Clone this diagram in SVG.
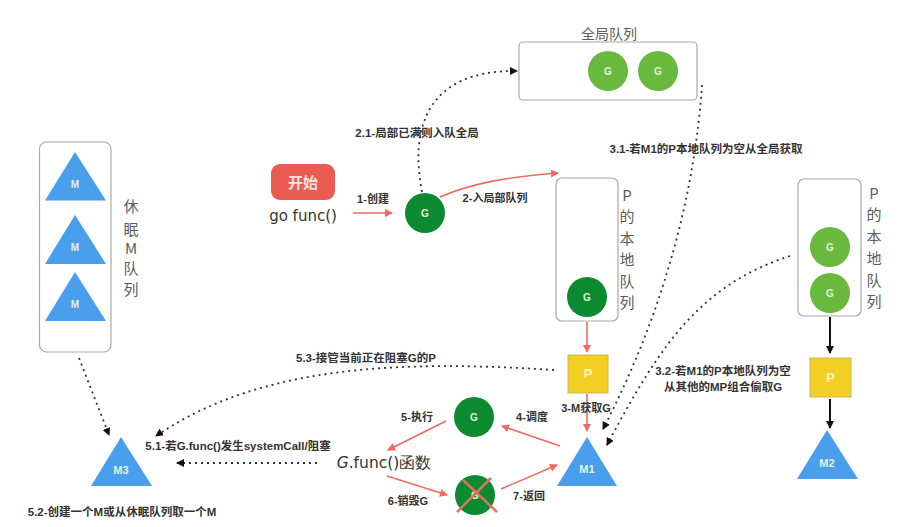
<svg xmlns="http://www.w3.org/2000/svg" width="907" height="527" viewBox="0 0 907 527">
<style>
text{font-family:"Liberation Sans","Noto Sans CJK SC",sans-serif}
.box{fill:#fff;stroke:#a8a8a8;stroke-width:1.2}
.dg{fill:#0b8a30}
.lg{fill:#69b93f}
.tri{fill:#4a9fec}
.yel{fill:#f3cf24;stroke:#c9b75a;stroke-width:1}
.in{fill:#e4f1dc;font-size:10px;font-weight:700;text-anchor:middle}
.lb{fill:#333;font-size:11.500px;font-weight:700;text-anchor:middle}
.v{fill:#5c5c5c;font-size:15px;text-anchor:middle;font-family:"Noto Sans CJK SC","Liberation Sans",sans-serif}
.hw{fill:#333;font-family:"DejaVu Sans",sans-serif;font-size:15px;text-anchor:middle}
.red{fill:none;stroke:#ee6a62;stroke-width:1.6}
.blk{fill:none;stroke:#111;stroke-width:2}
.dot{fill:none;stroke:#333;stroke-width:1.800;stroke-dasharray:2 4}
</style>
<defs>
<marker id="ar" markerWidth="10" markerHeight="10" refX="7" refY="4" orient="auto" markerUnits="userSpaceOnUse"><path d="M0 0L8 4L0 8Z" fill="#ee6a62"/></marker>
<marker id="ab" markerWidth="10" markerHeight="10" refX="7" refY="4" orient="auto" markerUnits="userSpaceOnUse"><path d="M0 0L8 4L0 8Z" fill="#111"/></marker>
</defs>
<rect width="907" height="527" fill="#fff"/>

<g id="global-queue"><rect class="box" x="519" y="42" width="178" height="58" rx="4"/><text x="609" y="39" style="font-size:14px;fill:#5c5c5c;text-anchor:middle">全局队列</text></g>
<g id="global-g1"><circle class="lg" cx="608" cy="71" r="20"/><text class="in" x="608" y="74.500">G</text></g>
<g id="global-g2"><circle class="lg" cx="658" cy="71" r="20"/><text class="in" x="658" y="74.500">G</text></g>

<g id="sleep-queue"><rect class="box" x="39.500" y="142" width="71.500" height="210" rx="7"/>
<text class="v" x="131" y="212">休</text><text class="v" x="131" y="235">眠</text><text class="v" x="131" y="254">M</text><text class="v" x="131" y="274">队</text><text class="v" x="131" y="295">列</text></g>
<g id="sleep-m1"><path class="tri" d="M75 152L106 200.500H45Z"/><text class="in" x="75" y="188">M</text></g>
<g id="sleep-m2"><path class="tri" d="M75 215L106 264H45Z"/><text class="in" x="75" y="251">M</text></g>
<g id="sleep-m3"><path class="tri" d="M75 272L106 321H45Z"/><text class="in" x="75" y="308">M</text></g>

<g id="start"><rect x="271" y="164" width="64" height="36" rx="9" fill="#ea5b52"/><text x="303" y="188" style="font-size:15px;font-weight:700;fill:#fbe3e0;text-anchor:middle">开始</text></g>
<text class="hw" x="303" y="221">go func()</text>
<g id="g-new"><circle class="dg" cx="425" cy="213" r="20"/><text class="in" x="425" y="216.500">G</text></g>

<g id="p-local"><rect class="box" x="556" y="178" width="62" height="143" rx="6"/>
<text class="v" x="627" y="201">P</text><text class="v" x="627" y="222">的</text><text class="v" x="627" y="244">本</text><text class="v" x="627" y="265">地</text><text class="v" x="627" y="287">队</text><text class="v" x="627" y="308">列</text></g>
<g id="p-local-g"><circle class="dg" cx="587" cy="297" r="20"/><text class="in" x="587" y="300.500">G</text></g>

<g id="p-other"><rect class="box" x="798" y="179" width="63" height="137" rx="6"/>
<text class="v" x="874" y="199">P</text><text class="v" x="874" y="220">的</text><text class="v" x="874" y="242">本</text><text class="v" x="874" y="264">地</text><text class="v" x="874" y="286">队</text><text class="v" x="874" y="307">列</text></g>
<g id="p-other-g1"><circle class="lg" cx="830" cy="247" r="20"/><text class="in" x="830" y="250.500">G</text></g>
<g id="p-other-g2"><circle class="lg" cx="830" cy="293" r="20"/><text class="in" x="830" y="296.500">G</text></g>

<g id="p1"><rect class="yel" x="568" y="355" width="40" height="38"/><text x="588" y="378" style="font-size:13px;font-weight:700;fill:#fbf3c0;text-anchor:middle">P</text></g>
<g id="p2"><rect class="yel" x="810" y="358" width="41" height="39"/><text x="830.500" y="382" style="font-size:13px;font-weight:700;fill:#fbf3c0;text-anchor:middle">P</text></g>
<g id="m1"><path class="tri" d="M587 437L617 486H557Z"/><text class="in" x="587" y="473" style="font-size:11px">M1</text></g>
<g id="m2"><path class="tri" d="M827 430L858 479H797Z"/><text class="in" x="827" y="467" style="font-size:11px">M2</text></g>
<g id="m3"><path class="tri" d="M121 437L152 486H91Z"/><text class="in" x="121" y="474" style="font-size:11px">M3</text></g>
<g id="g-run"><circle class="dg" cx="474" cy="417" r="20"/><text class="in" x="474" y="420.500">G</text></g>
<g id="g-dead"><circle class="dg" cx="475" cy="495" r="20"/><text class="in" x="475" y="498.500">G</text><path d="M457 512L491 478M463 480L497 512" stroke="#e2705f" stroke-width="2.500" fill="none"/></g>
<text class="hw" x="384" y="468" style="font-size:15.500px"><tspan font-style="italic">G</tspan>.func()函数</text>

<g id="connectors">
<path class="red" marker-end="url(#ar)" d="M353 213H392"/>
<path class="red" marker-end="url(#ar)" d="M440 197C475 182 510 177 558 173"/>
<path class="red" marker-end="url(#ar)" d="M587 322V352"/>
<path class="red" marker-end="url(#ar)" d="M587 394V431"/>
<path class="red" marker-end="url(#ar)" d="M560 446L502 426"/>
<path class="red" marker-end="url(#ar)" d="M446 421L388 450"/>
<path class="red" marker-end="url(#ar)" d="M387 476L447 495"/>
<path class="red" marker-end="url(#ar)" d="M501 489L557 465"/>
<path class="blk" marker-end="url(#ab)" d="M830 317V353"/>
<path class="blk" marker-end="url(#ab)" d="M830 399V428"/>
<path class="dot" marker-end="url(#ab)" d="M422 192C410 130 425 70 517 71"/>
<path class="dot" marker-end="url(#ab)" d="M702 85C695 190 665 310 603 429"/>
<path class="dot" marker-end="url(#ab)" d="M790 256C700 285 660 345 607 445"/>
<path class="dot" marker-end="url(#ab)" d="M554 370C400 360 260 365 156 436"/>
<path class="dot" marker-end="url(#ab)" d="M317 463H177"/>
<path class="dot" marker-end="url(#ab)" d="M79 358L109 435"/>
</g>

<g id="labels">
<text class="lb" x="373" y="203" style="font-size:11px">1-创建</text>
<text class="lb" x="495" y="202" style="font-size:11px">2-入局部队列</text>
<text class="lb" x="417" y="137">2.1-局部已满则入队全局</text>
<text class="lb" x="706" y="153">3.1-若M1的P本地队列为空从全局获取</text>
<text class="lb" x="723" y="375">3.2-若M1的P本地队列为空</text>
<text class="lb" x="723" y="391">从其他的MP组合偷取G</text>
<text class="lb" x="586" y="412" style="font-size:11px">3-M获取G</text>
<text class="lb" x="532" y="421" style="font-size:11px">4-调度</text>
<text class="lb" x="417" y="421" style="font-size:11px">5-执行</text>
<text class="lb" x="408" y="505" style="font-size:11px">6-销毁G</text>
<text class="lb" x="529" y="500" style="font-size:11px">7-返回</text>
<text class="lb" x="366" y="362">5.3-接管当前正在阻塞G的P</text>
<text class="lb" x="238" y="450">5.1-若G.func()发生systemCall/阻塞</text>
<text class="lb" x="122" y="516">5.2-创建一个M或从休眠队列取一个M</text>
</g>
</svg>
